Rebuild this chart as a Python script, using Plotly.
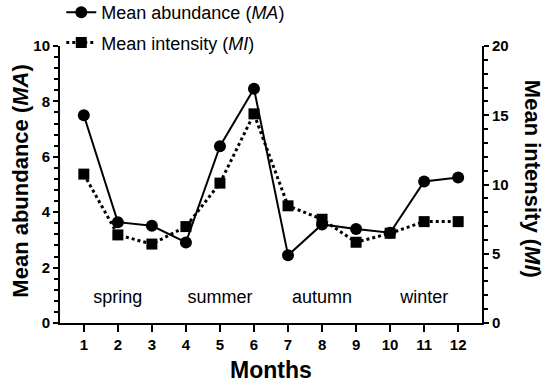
import plotly.graph_objects as go

months = list(range(1, 13))
mean_abundance = [7.50, 3.64, 3.51, 2.91, 6.38, 8.46, 2.45, 3.56, 3.39, 3.26, 5.11, 5.25]
mean_intensity = [10.75, 6.36, 5.70, 6.96, 10.10, 15.10, 8.46, 7.49, 5.83, 6.48, 7.32, 7.32]
season_names = ["spring", "summer", "autumn", "winter"]
season_months = [2, 5, 8, 11]
season_label_y = [0.88, 0.88, 0.88, 0.88]

FONT = "Liberation Sans, Arial, sans-serif"
L, R, T, B = 59.5, 68.3, 46, 63.3
PW = 550 - L - R
PH = 386 - T - B

fig = go.Figure()
fig.add_trace(go.Scatter(
    x=months, y=mean_abundance, mode="lines+markers",
    name="Mean abundance (<i>MA</i>)", legendgroup="a",
    line=dict(color="black", width=2),
    marker=dict(symbol="circle", size=12, color="black"),
))
fig.add_trace(go.Scatter(
    x=months, y=mean_intensity, mode="lines+markers", yaxis="y2",
    name="Mean intensity (<i>MI</i>)", legendgroup="b",
    line=dict(color="black", width=3, dash="dot"),
    marker=dict(symbol="square", size=11, color="black"),
))
fig.add_trace(go.Scatter(
    x=season_months, y=season_label_y, mode="text", text=season_names,
    textfont=dict(family=FONT, size=18, color="black"),
    showlegend=False, hoverinfo="skip",
))

tickfont = dict(family=FONT, size=15, color="black", weight="bold")

fig.update_layout(
    width=550, height=386,
    margin=dict(l=L, r=R, t=T, b=B, autoexpand=False),
    plot_bgcolor="white", paper_bgcolor="white",
    font=dict(family=FONT, color="black"),
    showlegend=True,
    legend=dict(
        x=0.003, y=1 + (T + 6) / PH, xanchor="left", yanchor="top",
        font=dict(family=FONT, size=18, color="black"),
        bgcolor="rgba(0,0,0,0)", tracegroupgap=4,
    ),
    xaxis=dict(
        range=[0.3, 12.7], tickmode="array", tickvals=months,
        ticks="outside", ticklen=7, tickwidth=2, tickcolor="black",
        showline=True, linecolor="black", linewidth=2,
        showgrid=False, zeroline=False, tickfont=tickfont,
        title=dict(text="Months", font=dict(family=FONT, size=23, color="black", weight="bold"), standoff=10),
    ),
    yaxis=dict(
        range=[0, 10], dtick=2, ticks="outside", ticklen=5, tickwidth=2, tickcolor="black",
        minor=dict(dtick=0.4, ticks="outside", ticklen=4, tickwidth=1.5, tickcolor="black"),
        showline=True, linecolor="black", linewidth=2,
        showgrid=False, zeroline=False, tickfont=tickfont,
    ),
    yaxis2=dict(
        range=[0, 20], dtick=5, overlaying="y", side="right",
        ticks="outside", ticklen=5, tickwidth=2, tickcolor="black",
        minor=dict(dtick=1, ticks="outside", ticklen=4, tickwidth=1.5, tickcolor="black"),
        showline=True, linecolor="black", linewidth=2,
        showgrid=False, zeroline=False, tickfont=tickfont,
    ),
    annotations=[
        dict(text="Mean abundance (<i>MA</i>)", xref="paper", yref="paper",
             x=(20 - L) / PW, y=(386 - B - 181) / PH, xanchor="center", yanchor="middle",
             textangle=-90, showarrow=False,
             font=dict(family=FONT, size=22, color="black", weight="bold")),
        dict(text="Mean intensity (<i>MI</i>)", xref="paper", yref="paper",
             x=(533 - L) / PW, y=(386 - B - 179) / PH, xanchor="center", yanchor="middle",
             textangle=90, showarrow=False,
             font=dict(family=FONT, size=22, color="black", weight="bold")),
    ],
)

fig.write_html("out.html", config={"displayModeBar": False},
               post_script="document.body.style.margin='0';")
